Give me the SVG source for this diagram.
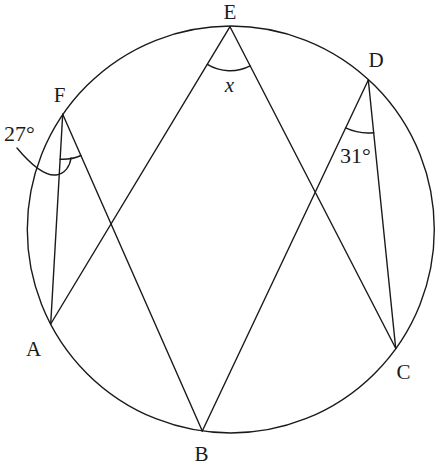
<svg xmlns="http://www.w3.org/2000/svg" width="440" height="465" viewBox="0 0 440 465">
<style>
.ln{stroke:#1a1a1a;stroke-width:1.4;fill:none;stroke-linecap:round;stroke-linejoin:round}
.lb{font-family:"Liberation Serif","Times New Roman",serif;font-size:21px;fill:#1a1a1a;text-anchor:middle}
.ag{font-family:"Liberation Serif","Times New Roman",serif;font-size:22px;fill:#1a1a1a}
</style>
<rect width="440" height="465" fill="#fff"/>
<g id="circle"><circle class="ln" cx="230.8" cy="229.5" r="203.5"/></g>
<g id="connectors">
<line class="ln" x1="50.7" y1="324" x2="230" y2="26.7"/>
<line class="ln" x1="230" y1="26.7" x2="395.7" y2="348.3"/>
<line class="ln" x1="368.3" y1="80" x2="202.3" y2="431"/>
<line class="ln" x1="368.3" y1="80" x2="395.7" y2="348.3"/>
<line class="ln" x1="62.7" y1="114.3" x2="50.7" y2="324"/>
<line class="ln" x1="62.7" y1="114.3" x2="202.3" y2="431"/>
</g>
<g id="angles">
<path class="ln" d="M60.1,159.2 A45,45 0 0 0 80.9,155.5"/>
<path class="ln" d="M17,148 C32,166 45,176 56,175 C65,174 70,166 71,158"/>
<path class="ln" d="M207.3,64.4 A44,44 0 0 0 250.2,65.8"/>
<path class="ln" d="M345.6,127.9 A53,53 0 0 0 373.7,132.7"/>
<text class="ag" x="4" y="141">27°</text>
<text class="ag" x="340" y="163">31°</text>
<text class="lb" x="229.5" y="91.5" font-style="italic">x</text>
</g>
<g id="E"><text class="lb" x="230" y="18.8">E</text></g>
<g id="D"><text class="lb" x="376" y="67">D</text></g>
<g id="F"><text class="lb" x="59.5" y="101.5">F</text></g>
<g id="A"><text class="lb" x="33.5" y="356">A</text></g>
<g id="B"><text class="lb" x="201.5" y="460.5">B</text></g>
<g id="C"><text class="lb" x="403.5" y="379">C</text></g>
</svg>
